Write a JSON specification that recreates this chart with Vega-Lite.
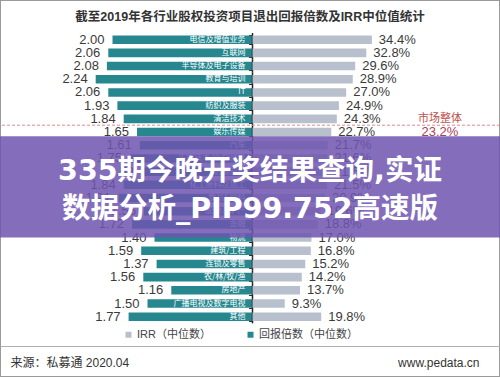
{
  "$schema": "https://vega.github.io/schema/vega-lite/v6.json",
  "width": 500,
  "height": 377,
  "autosize": {"type": "none"},
  "padding": 0,
  "background": "white",
  "title": {
    "text": "截至2019年各行业股权投资项目退出回报倍数及IRR中位值统计",
    "anchor": "middle",
    "frame": "group",
    "offset": -29,
    "baseline": "middle",
    "fontSize": 12.5,
    "fontWeight": "bold",
    "color": "#333333",
    "font": "Liberation Sans, Noto Sans CJK SC"
  },
  "config": {
    "view": {"stroke": "#9a9a9a", "strokeWidth": 2},
    "axis": {"grid": false},
    "axisY": {
      "domain": false,
      "labels": false,
      "ticks": true,
      "tickBand": "extent",
      "tickSize": 4,
      "tickColor": "#333333",
      "tickWidth": 1,
      "offset": -252.5
    },
    "axisX": {
      "labels": false,
      "ticks": false,
      "grid": false,
      "offset": -31,
      "titleFontSize": 12,
      "titleFontWeight": "normal",
      "titleColor": "#333333",
      "titleFont": "Liberation Sans, Noto Sans CJK SC",
      "titleBaseline": "middle",
      "titleY": 16,
      "domainColor": "#b0b0b0",
      "domainWidth": 1.2
    }
  },
  "data": {
    "values": [
      {"industry": "电信及增值业务", "multiple": 2.00, "irr": 0.344},
      {"industry": "互联网", "multiple": 2.06, "irr": 0.328},
      {"industry": "半导体及电子设备", "multiple": 2.08, "irr": 0.296},
      {"industry": "教育与培训", "multiple": 2.24, "irr": 0.289},
      {"industry": "IT", "multiple": 2.06, "irr": 0.270},
      {"industry": "纺织及服装", "multiple": 1.93, "irr": 0.249},
      {"industry": "清洁技术", "multiple": 1.84, "irr": 0.243},
      {"industry": "娱乐传媒", "multiple": 1.65, "irr": 0.227},
      {"industry": "汽车", "multiple": 1.61, "irr": 0.217},
      {"industry": "生物技术/医疗健康", "multiple": 1.75, "irr": 0.216},
      {"industry": "机械制造", "multiple": 1.58, "irr": 0.215},
      {"industry": "化工原料及加工", "multiple": 1.84, "irr": 0.215},
      {"industry": "食品&饮料", "multiple": 1.91, "irr": 0.209},
      {"industry": "能源及矿产", "multiple": 1.55, "irr": 0.196},
      {"industry": "金融", "multiple": 1.72, "irr": 0.188},
      {"industry": "物流", "multiple": 1.40, "irr": 0.170},
      {"industry": "建筑/工程", "multiple": 1.59, "irr": 0.168},
      {"industry": "连锁及零售", "multiple": 1.37, "irr": 0.152},
      {"industry": "农/林/牧/渔", "multiple": 1.56, "irr": 0.142},
      {"industry": "房地产", "multiple": 1.16, "irr": 0.137},
      {"industry": "广播电视及数字电视", "multiple": 1.50, "irr": 0.093},
      {"industry": "其他", "multiple": 1.77, "irr": 0.198}
    ]
  },
  "layer": [
    {
      "layer": [
        {
          "mark": {"type": "bar"},
          "encoding": {
            "y": {
              "field": "industry",
              "type": "nominal",
              "title": null,
              "scale": {
                "domain": ["电信及增值业务", "互联网", "半导体及电子设备", "教育与培训", "IT", "纺织及服装", "清洁技术", "娱乐传媒", "汽车", "生物技术/医疗健康", "机械制造", "化工原料及加工", "食品&饮料", "能源及矿产", "金融", "物流", "建筑/工程", "连锁及零售", "农/林/牧/渔", "房地产", "广播电视及数字电视", "其他"],
                "range": [33.1, 323.3],
                "paddingInner": 0.35,
                "paddingOuter": 0.175,
                "align": 0.5
              }
            },
            "x": {
              "field": "multiple",
              "type": "quantitative",
              "scale": {"domain": [-3.5357, 3.6071], "reverse": true, "nice": false, "zero": false},
              "axis": {"orient": "bottom", "title": "来源：私募通 2020.04", "titleX": 10, "titleAlign": "left", "titleAnchor": "start"}
            },
            "color": {
              "datum": "回报倍数（中位数）",
              "type": "nominal",
              "scale": {"domain": ["IRR（中位数）", "回报倍数（中位数）"], "range": ["#b9c0cd", "#26878f"]},
              "legend": {
                "orient": "none",
                "legendX": 123,
                "legendY": 329,
                "direction": "horizontal",
                "title": null,
                "symbolType": "square",
                "symbolSize": 36,
                "symbolStrokeWidth": 0,
                "labelFontSize": 11,
                "labelColor": "#444444",
                "labelFont": "Liberation Sans, Noto Sans CJK SC",
                "labelOffset": 3,
                "columnPadding": 34
              }
            }
          }
        },
        {
          "mark": {"type": "text", "align": "right", "baseline": "middle", "dx": -8, "fontSize": 13, "font": "Liberation Sans", "color": "#3a3a3a"},
          "encoding": {
            "y": {"field": "industry", "type": "nominal", "title": null},
            "x": {"field": "multiple", "type": "quantitative"},
            "text": {"field": "multiple", "type": "quantitative", "format": ".2f"}
          }
        },
        {
          "mark": {"type": "text", "align": "right", "baseline": "middle", "dx": -7, "fontSize": 8, "font": "Noto Sans CJK SC", "color": "white"},
          "encoding": {
            "y": {"field": "industry", "type": "nominal", "title": null},
            "x": {"datum": 0, "type": "quantitative"},
            "text": {"field": "industry", "type": "nominal"}
          }
        },
        {
          "mark": {"type": "tick", "orient": "vertical", "color": "#222222", "thickness": 1.5, "size": 13.3, "opacity": 1},
          "encoding": {
            "y": {"field": "industry", "type": "nominal", "title": null},
            "x": {"datum": 0, "type": "quantitative"}
          }
        }
      ]
    },
    {
      "layer": [
        {
          "mark": {"type": "bar"},
          "encoding": {
            "y": {"field": "industry", "type": "nominal", "title": null},
            "x": {
              "field": "irr",
              "type": "quantitative",
              "scale": {"domain": [-0.72767, 0.71326], "nice": false, "zero": false},
              "axis": {"orient": "bottom", "domain": false, "title": "www.pedata.cn", "titleX": 479, "titleAlign": "right", "titleAnchor": "end"}
            },
            "color": {"datum": "IRR（中位数）", "type": "nominal"}
          }
        },
        {
          "mark": {"type": "text", "align": "left", "baseline": "middle", "dx": 7, "fontSize": 13, "font": "Liberation Sans", "color": "#3a3a3a"},
          "encoding": {
            "y": {"field": "industry", "type": "nominal", "title": null},
            "x": {"field": "irr", "type": "quantitative"},
            "text": {"field": "irr", "type": "quantitative", "format": ".1%"}
          }
        },
        {
          "data": {"values": [{"label": "市场整体", "irr": 0.232}]},
          "mark": {"type": "rule", "color": "#d98a92", "strokeDash": [3, 2], "strokeWidth": 1},
          "encoding": {
            "y": {"datum": "娱乐传媒", "type": "nominal", "bandPosition": -0.3}
          }
        },
        {
          "data": {"values": [{"label": "市场整体", "irr": 0.232}]},
          "mark": {"type": "text", "align": "center", "baseline": "middle", "fontSize": 11, "font": "Noto Sans CJK SC", "color": "#c0504d"},
          "encoding": {
            "x": {"datum": 0.54, "type": "quantitative"},
            "y": {"datum": "清洁技术", "type": "nominal"},
            "text": {"field": "label", "type": "nominal"}
          }
        },
        {
          "data": {"values": [{"label": "市场整体", "irr": 0.232}]},
          "mark": {"type": "text", "align": "center", "baseline": "middle", "fontSize": 13, "font": "Liberation Sans", "color": "#a8415a"},
          "encoding": {
            "x": {"datum": 0.54, "type": "quantitative"},
            "y": {"datum": "娱乐传媒", "type": "nominal"},
            "text": {"field": "irr", "type": "quantitative", "format": ".1%"}
          }
        },
        {
          "data": {"values": [{"banner": "overlay"}]},
          "mark": {"type": "rect", "color": "#6f55b0", "opacity": 0.85},
          "encoding": {
            "y": {"datum": "娱乐传媒", "type": "nominal", "bandPosition": 1},
            "y2": {"datum": "物流", "bandPosition": 0.5}
          }
        },
        {
          "data": {"values": [{"banner": "overlay"}]},
          "mark": {"type": "text", "align": "center", "baseline": "middle", "fontSize": 28.5, "fontWeight": "bold", "lineHeight": 38, "font": "DejaVu Sans, Noto Sans CJK SC", "color": "white"},
          "encoding": {
            "x": {"datum": -0.0072, "type": "quantitative"},
            "y": {"datum": "化工原料及加工", "type": "nominal", "bandPosition": -1.1},
            "text": {"value": ["335期今晚开奖结果查询,实证", "数据分析_PIP99.752高速版"]}
          }
        }
      ]
    }
  ],
  "resolve": {"scale": {"x": "independent"}, "axis": {"x": "independent"}}
}
